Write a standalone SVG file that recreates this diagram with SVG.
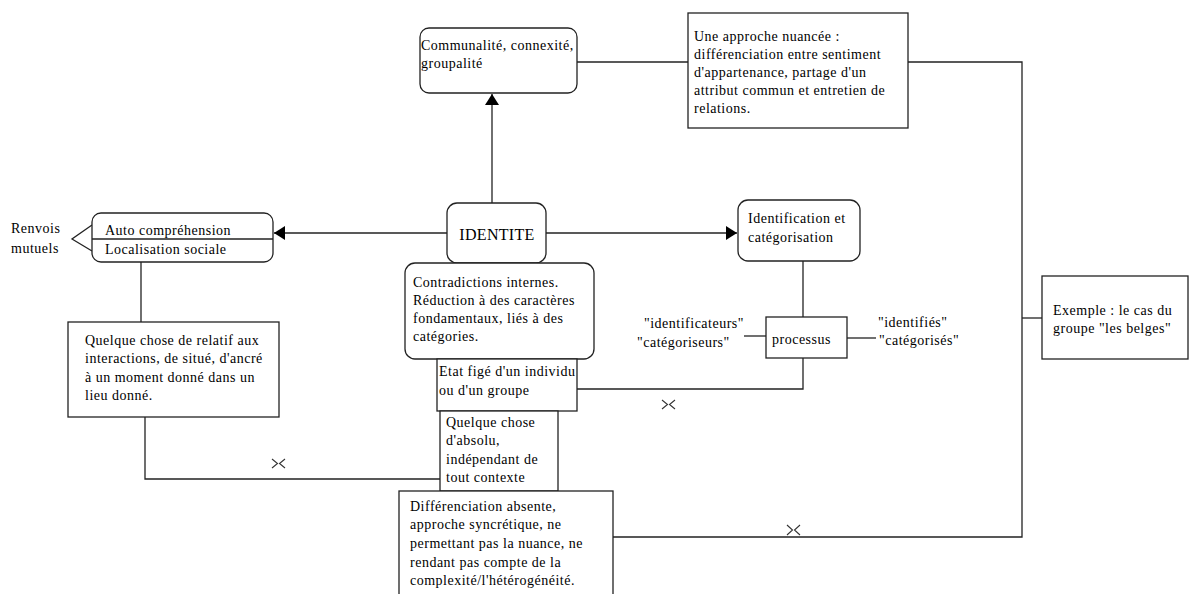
<svg xmlns="http://www.w3.org/2000/svg" width="1189" height="594" viewBox="0 0 1189 594">
<style>
text{font-family:"Liberation Serif","Times New Roman",serif;font-size:14px;letter-spacing:0.5px;fill:#000}
.box{fill:#fff;stroke:#222;stroke-width:1.3}
.ln{fill:none;stroke:#222;stroke-width:1.3}
.jmp{fill:none;stroke:#333;stroke-width:1.1}
.big{font-size:16px;letter-spacing:0.3px}
</style>
<defs>
<marker id="arr" markerUnits="userSpaceOnUse" markerWidth="12" markerHeight="14" refX="11" refY="7" orient="auto">
<path d="M0,0 L11,7 L0,14 Z" fill="#000"/>
</marker>
</defs>
<rect width="1189" height="594" fill="#fff"/>

<g id="connectors">
<path class="ln" d="M492,203 V94" marker-end="url(#arr)"/>
<path class="ln" d="M447,233 H274" marker-end="url(#arr)"/>
<path class="ln" d="M546,233 H737" marker-end="url(#arr)"/>
<path class="ln" d="M577,62 H688"/>
<path class="ln" d="M908,62 H1022 V537 H613"/>
<path class="ln" d="M1022,318 H1042"/>
<path class="ln" d="M141,262 V322"/>
<path class="ln" d="M145,417 V479 H440"/>
<path class="ln" d="M803,261 V317"/>
<path class="ln" d="M803,358 V389 H577"/>
<path class="ln" d="M744,336 H766"/>
<path class="ln" d="M847,338 H876"/>
<path class="ln" d="M92,225 L72,239 L92,251"/>
<path class="ln" d="M553,412 H558" stroke-width="2"/>
<path class="jmp" d="M787,525 L792.5,530 L787,535 M800,525 L794.5,530 L800,535"/>
<path class="jmp" d="M272,459 L277.5,463.5 L272,468 M285,459 L279.5,463.5 L285,468"/>
<path class="jmp" d="M662,400 L667.5,404.5 L662,409 M675,400 L669.5,404.5 L675,409"/>
</g>

<g id="renvois">
<text x="11" y="233">Renvois</text>
<text x="11" y="253">mutuels</text>
</g>

<g id="communalite">
<rect class="box" x="420" y="28" width="157" height="65" rx="9"/>
<text x="421" y="50">Communalité, connexité,</text>
<text x="421" y="68">groupalité</text>
</g>

<g id="approche">
<rect class="box" x="688" y="13" width="220" height="115"/>
<text x="694" y="41">Une approche nuancée :</text>
<text x="694" y="59">différenciation entre sentiment</text>
<text x="694" y="77">d'appartenance, partage d'un</text>
<text x="694" y="95">attribut commun et entretien de</text>
<text x="694" y="113">relations.</text>
</g>

<g id="auto">
<rect class="box" x="92" y="213" width="181" height="49" rx="9"/>
<path class="ln" d="M92,239 H273"/>
<text x="105" y="235">Auto compréhension</text>
<text x="105" y="254">Localisation sociale</text>
</g>

<g id="identite">
<rect class="box" x="447" y="203" width="99" height="60" rx="10"/>
<text class="big" x="497" y="240" text-anchor="middle">IDENTITE</text>
</g>

<g id="identification">
<rect class="box" x="738" y="200" width="122" height="61" rx="10"/>
<text x="748" y="223">Identification et</text>
<text x="748" y="242">catégorisation</text>
</g>

<g id="contradictions">
<rect class="box" x="405" y="263" width="189" height="96" rx="10"/>
<text x="413" y="287">Contradictions internes.</text>
<text x="413" y="305">Réduction à des caractères</text>
<text x="413" y="323">fondamentaux, liés à des</text>
<text x="413" y="341">catégories.</text>
</g>

<g id="etat">
<rect class="box" x="437" y="359" width="140" height="52"/>
<text x="439" y="376">Etat figé d'un individu</text>
<text x="439" y="395">ou d'un groupe</text>
</g>

<g id="relatif">
<rect class="box" x="68" y="322" width="211" height="95"/>
<text x="85" y="345">Quelque chose de relatif aux</text>
<text x="85" y="363">interactions, de situé, d'ancré</text>
<text x="85" y="382">à un moment donné dans un</text>
<text x="85" y="400">lieu donné.</text>
</g>

<g id="processus">
<rect class="box" x="766" y="317" width="81" height="41"/>
<text x="772" y="344">processus</text>
</g>

<g id="identificateurs">
<text x="644" y="328">"identificateurs"</text>
<text x="637" y="347">"catégoriseurs"</text>
</g>

<g id="identifies">
<text x="878" y="327">"identifiés"</text>
<text x="879" y="345">"catégorisés"</text>
</g>

<g id="absolu">
<rect class="box" x="440" y="411" width="118" height="80"/>
<text x="446" y="427">Quelque chose</text>
<text x="446" y="445">d'absolu,</text>
<text x="446" y="464">indépendant de</text>
<text x="446" y="482">tout contexte</text>
</g>

<g id="differenciation">
<rect class="box" x="399" y="491" width="214" height="115"/>
<text x="410" y="511">Différenciation absente,</text>
<text x="410" y="529">approche syncrétique, ne</text>
<text x="410" y="548">permettant pas la nuance, ne</text>
<text x="410" y="567">rendant pas compte de la</text>
<text x="410" y="585">complexité/l'hétérogénéité.</text>
</g>

<g id="exemple">
<rect class="box" x="1042" y="276" width="146" height="83"/>
<text x="1053" y="315">Exemple : le cas du</text>
<text x="1053" y="333">groupe "les belges"</text>
</g>
</svg>
